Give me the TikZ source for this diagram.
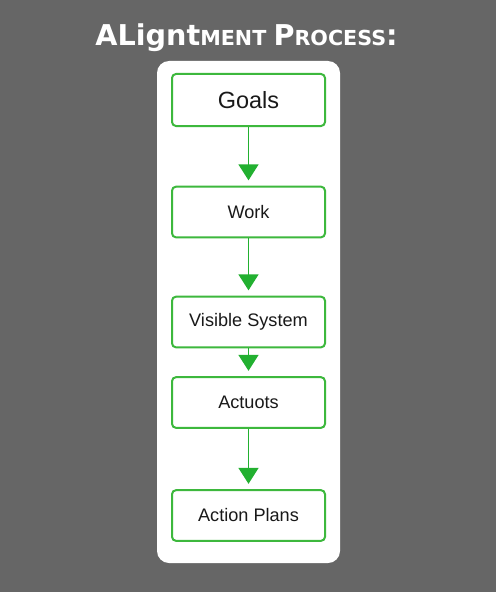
\documentclass[tikz,border=0pt]{standalone}
\usepackage{fontspec}
\setmainfont{Liberation Sans}
\newfontfamily\titlefont{DejaVu Sans}
\usetikzlibrary{arrows.meta}

\definecolor{bggray}{HTML}{666666}
\definecolor{boxgreen}{HTML}{3DB83D}
\definecolor{arrgreen}{HTML}{22B030}

\tikzset{
  stepbox/.style={draw=boxgreen, line width=1.5pt, rounded corners=3pt, fill=white,
    minimum width=114.75pt, minimum height=38pt, text=black!90, font=\fontsize{13.6}{16}\selectfont},
  flow/.style={draw=arrgreen, line width=1.1pt, shorten >=4pt,
    -{Triangle[width=15pt,length=12pt]}, arrgreen}
}

\newcommand{\bigtl}{\fontsize{21.5}{25}\selectfont}
\newcommand{\smalltl}{\fontsize{15.5}{18}\selectfont}

\begin{document}
\begin{tikzpicture}[x=0.75pt, y=-0.75pt]

\useasboundingbox[fill=bggray] (0,0) rectangle (496,592);

\node[text=white, font=\titlefont\bfseries, anchor=base] (title) at (246.5,46)
  {\bigtl ALignt\smalltl MENT \bigtl P\smalltl ROCESS\bigtl :};

\draw[fill=white, draw=none, rounded corners=9pt] (157,61) rectangle (340,563);

\node[stepbox, minimum height=39pt, font=\fontsize{17.6}{20}\selectfont] (goals) at (248.5,100) {Goals};
\node[stepbox] (work) at (248.5,212) {Work};
\node[stepbox] (visible) at (248.5,322) {Visible System};
\node[stepbox] (actuots) at (248.5,402.5) {Actuots};
\node[stepbox] (plans) at (248.5,515.5) {Action Plans};

\draw[flow] (goals) -- (work);
\draw[flow] (work) -- (visible);
\draw[flow] (visible) -- (actuots);
\draw[flow] (actuots) -- (plans);

\end{tikzpicture}
\end{document}
